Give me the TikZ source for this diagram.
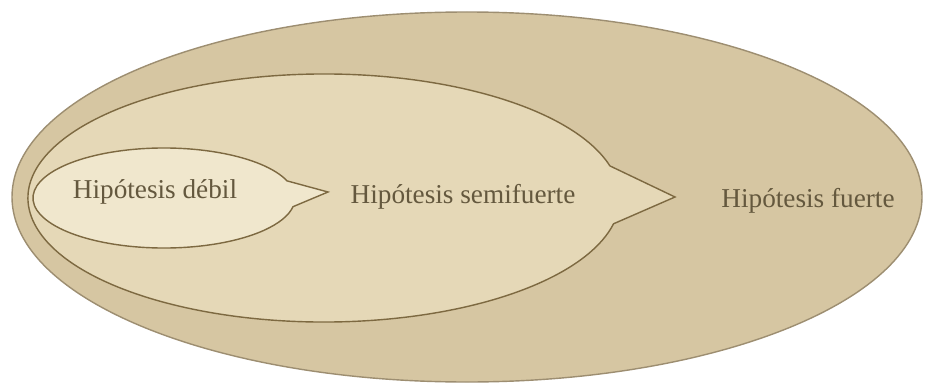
\documentclass[tikz,border=0pt]{standalone}
\usepackage{fontspec}
\setmainfont{Liberation Serif}
\definecolor{fondo}{RGB}{214,198,162}
\definecolor{medio}{RGB}{229,216,183}
\definecolor{interior}{RGB}{240,231,205}
\definecolor{trazo}{RGB}{125,105,65}
\definecolor{letra}{RGB}{100,88,62}
\begin{document}
\begin{tikzpicture}[x=0.02cm,y=-0.02cm,
    borde/.style={draw=trazo,line width=0.8pt,line join=miter},
    etiq/.style={text=letra,font=\fontsize{15.5}{18}\selectfont,anchor=base,inner sep=0pt}]
    \useasboundingbox (0,0) rectangle (925,385);
    % hipotesis fuerte
    \filldraw[borde,fill=fondo,draw=trazo!75] (467,197) ellipse[x radius=455,y radius=185];
    % hipotesis semifuerte
    \coordinate (puntaM) at (675,197);
    \filldraw[borde,fill=medio] (324,198) ++(-15:296 and 124)
      arc[start angle=-15,end angle=-348,x radius=296,y radius=124] -- (puntaM) -- cycle;
    % hipotesis debil
    \coordinate (puntaD) at (328,192);
    \filldraw[borde,fill=interior] (164,198) ++(-20:131 and 50)
      arc[start angle=-20,end angle=-350,x radius=131,y radius=50] -- (puntaD) -- cycle;
    \node[etiq] (debil) at (155,198) {Hipótesis débil};
    \node[etiq] (semi) at (463,203) {Hipótesis semifuerte};
    \node[etiq] (fuerte) at (808,207) {Hipótesis fuerte};
\end{tikzpicture}
\end{document}
